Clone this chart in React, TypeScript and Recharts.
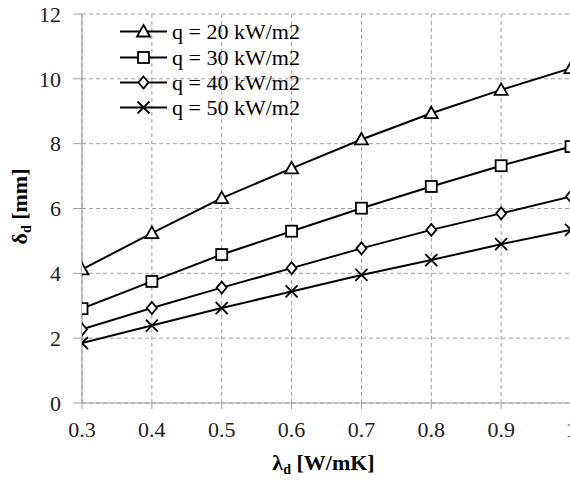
import React from "react";
import { LineChart, Line, XAxis, YAxis, CartesianGrid, Legend } from "recharts";

const lambdaValues = [0.3, 0.4, 0.5, 0.6, 0.7, 0.8, 0.9, 1.0];
const q20 = [4.12, 5.24, 6.32, 7.24, 8.13, 8.94, 9.66, 10.33];
const q30 = [2.91, 3.75, 4.58, 5.3, 6.01, 6.68, 7.32, 7.91];
const q40 = [2.27, 2.93, 3.56, 4.16, 4.77, 5.34, 5.85, 6.37];
const q50 = [1.85, 2.39, 2.93, 3.44, 3.95, 4.41, 4.9, 5.34];
const xTicks = [0.3, 0.4, 0.5, 0.6, 0.7, 0.8, 0.9, 1.0];
const yTicks = [0, 2, 4, 6, 8, 10, 12];
const seriesNames = ["q = 20 kW/m2", "q = 30 kW/m2", "q = 40 kW/m2", "q = 50 kW/m2"];
const seriesKeys = ["q20", "q30", "q40", "q50"];
const markerKinds = ["triangle", "square", "diamond", "cross"];

const data = lambdaValues.map((x, i) => ({
  x,
  q20: q20[i],
  q30: q30[i],
  q40: q40[i],
  q50: q50[i],
}));

const FONT = '"Liberation Serif", "Times New Roman", serif';
const GRID = "#a0a0a0";

function Marker({ kind, cx, cy }: { kind: string; cx: number; cy: number }) {
  const sw = 1.8;
  if (kind === "triangle") {
    return (
      <polygon
        points={`${cx},${cy - 6.5} ${cx + 6.5},${cy + 5} ${cx - 6.5},${cy + 5}`}
        fill="#fff"
        stroke="#000"
        strokeWidth={sw}
      />
    );
  }
  if (kind === "square") {
    return <rect x={cx - 5.5} y={cy - 5.5} width={11} height={11} fill="#fff" stroke="#000" strokeWidth={sw} />;
  }
  if (kind === "diamond") {
    return (
      <polygon
        points={`${cx},${cy - 6} ${cx + 5},${cy} ${cx},${cy + 6} ${cx - 5},${cy}`}
        fill="#fff"
        stroke="#000"
        strokeWidth={sw}
      />
    );
  }
  return (
    <g stroke="#000" strokeWidth={sw}>
      <line x1={cx - 6} y1={cy - 6} x2={cx + 6} y2={cy + 6} />
      <line x1={cx - 6} y1={cy + 6} x2={cx + 6} y2={cy - 6} />
    </g>
  );
}

const makeDot = (kind: string) => (props: any) => {
  const { cx, cy, index } = props;
  return <Marker key={`${kind}-${index}`} kind={kind} cx={cx} cy={cy} />;
};

function LegendContent() {
  return (
    <div style={{ fontFamily: FONT, fontSize: 22, color: "#000" }}>
      {seriesNames.map((name, i) => (
        <div key={name} style={{ height: 25.4, display: "flex", alignItems: "center", whiteSpace: "nowrap" }}>
          <svg width={48} height={25} style={{ display: "block" }}>
            <line x1={0} y1={12.5} x2={47} y2={12.5} stroke="#000" strokeWidth={2} />
            <Marker kind={markerKinds[i]} cx={23.5} cy={12.5} />
          </svg>
          <span style={{ marginLeft: 4, lineHeight: "25px", fontFamily: FONT }}>{name}</span>
        </div>
      ))}
    </div>
  );
}

function XTitle(props: any) {
  const vb = props.viewBox || {};
  const cx = vb.x + vb.width / 2 - 3;
  return (
    <text x={cx} y={470} textAnchor="middle" fontFamily={FONT} fontSize={22} fontWeight="bold" fill="#000">
      λ<tspan fontSize={14} dy={4}>d</tspan>
      <tspan dy={-4}> [W/mK]</tspan>
    </text>
  );
}

function YTitle(props: any) {
  const vb = props.viewBox || {};
  const cy = vb.y + vb.height / 2 - 2;
  const cx = 27;
  return (
    <text
      x={cx}
      y={cy}
      transform={`rotate(-90 ${cx} ${cy})`}
      textAnchor="middle"
      fontFamily={FONT}
      fontSize={22}
      fontWeight="bold"
      fill="#000"
    >
      δ<tspan fontSize={14} dy={4}>d</tspan>
      <tspan dy={-4}> [mm]</tspan>
    </text>
  );
}

export default function App() {
  return (
    <div
      style={{
        position: "absolute",
        left: 0,
        top: 0,
        width: 570,
        height: 480,
        overflow: "hidden",
        background: "#fff",
        fontFamily: FONT,
      }}
    >
      <LineChart
        width={600}
        height={480}
        data={data}
        margin={{ top: 14, right: 29, left: 0, bottom: 37 }}
        style={{ fontFamily: FONT }}
      >
        <CartesianGrid stroke={GRID} strokeDasharray="4 3" horizontalValues={yTicks} verticalValues={xTicks} />
        <XAxis
          type="number"
          dataKey="x"
          domain={[0.3, 1]}
          ticks={xTicks}
          allowDataOverflow
          height={40}
          tickFormatter={(v: number) => (v === 1 ? "1" : v.toFixed(1))}
          axisLine={{ stroke: GRID, strokeWidth: 1.2 }}
          tickLine={{ stroke: GRID }}
          tickSize={6}
          tickMargin={12}
          tick={{ fontFamily: FONT, fontSize: 22, fill: "#222" }}
          label={{ content: XTitle }}
        />
        <YAxis
          type="number"
          domain={[0, 12]}
          ticks={yTicks}
          allowDataOverflow
          width={82}
          axisLine={{ stroke: GRID, strokeWidth: 1.2 }}
          tickLine={{ stroke: GRID }}
          tickSize={9}
          tickMargin={12}
          tick={{ fontFamily: FONT, fontSize: 22, fill: "#222" }}
          label={{ content: YTitle }}
        />
        <Legend
          layout="vertical"
          align="center"
          verticalAlign="middle"
          content={<LegendContent />}
          wrapperStyle={{ top: 19, left: 120, width: 210, height: 102 }}
        />
        {seriesKeys.map((k, i) => (
          <Line
            key={k}
            dataKey={k}
            name={seriesNames[i]}
            stroke="#000"
            strokeWidth={2}
            dot={makeDot(markerKinds[i])}
            activeDot={false}
            isAnimationActive={false}
            legendType="none"
          />
        ))}
      </LineChart>
    </div>
  );
}
